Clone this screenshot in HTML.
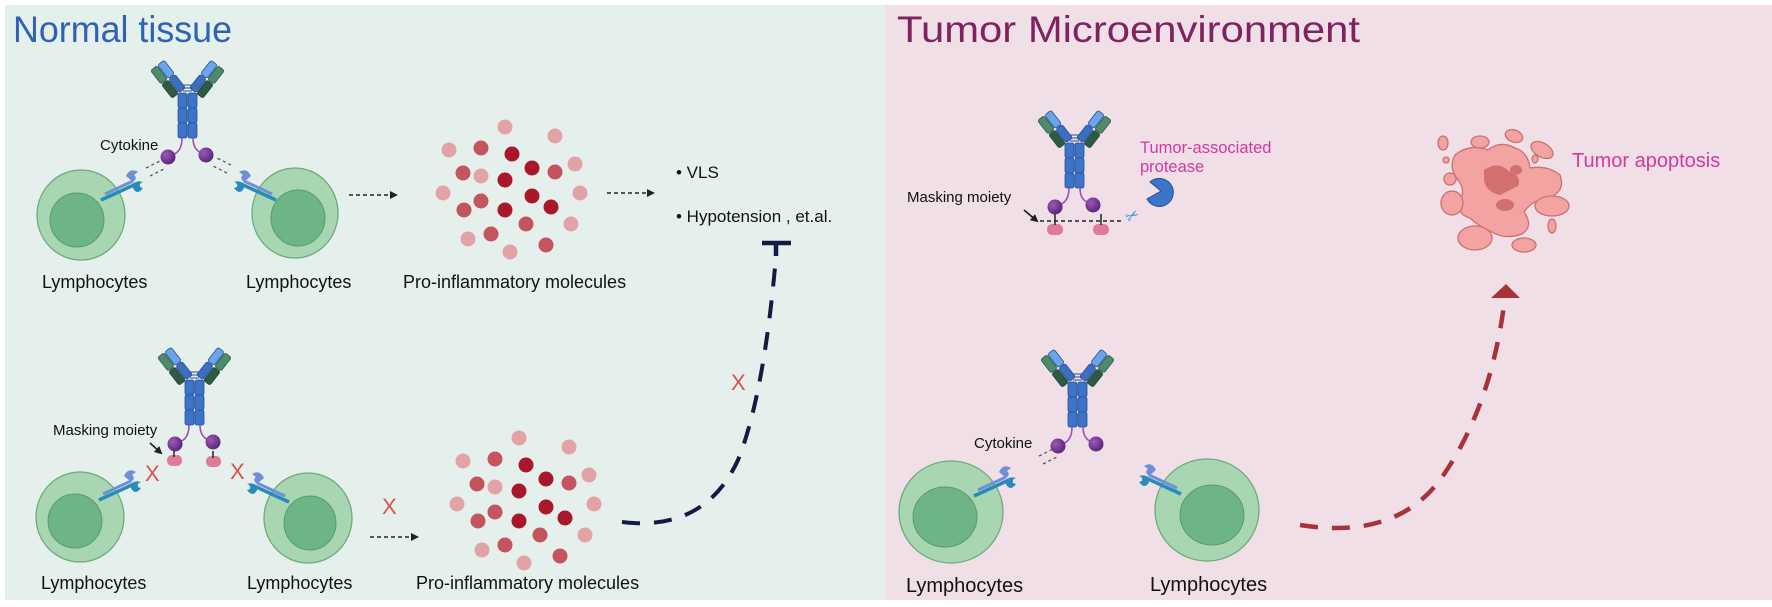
<!DOCTYPE html>
<html><head><meta charset="utf-8"><style>
html,body{margin:0;padding:0;background:#fff}
svg{display:block}
text{font-family:"Liberation Sans",Arial,sans-serif}
</style></head><body>
<svg width="1772" height="607" viewBox="0 0 1772 607" xmlns="http://www.w3.org/2000/svg">
<defs>
<radialGradient id="ball" cx="35%" cy="35%" r="70%"><stop offset="0" stop-color="#9a5ab8"/><stop offset="1" stop-color="#5a2378"/></radialGradient>
<g id="arm">
  <rect x="180" y="72" width="8" height="17" rx="2" fill="#3b6fc2" stroke="#2a4f95" stroke-width="0.8"/>
  <rect x="180" y="54" width="8" height="17" rx="2" fill="#6aa4ea" stroke="#2a4f95" stroke-width="0.8"/>
  <rect x="171" y="72" width="8" height="17" rx="2" fill="#2d5a44" stroke="#234536" stroke-width="0.8"/>
  <rect x="171" y="54" width="8" height="17" rx="2" fill="#4f8a6c" stroke="#2d5a44" stroke-width="0.8"/>
</g>
<g id="ab">
  <g transform="rotate(-38 185 92)"><use href="#arm"/></g>
  <g transform="translate(375 0) scale(-1 1)"><g transform="rotate(-38 185 92)"><use href="#arm"/></g></g>
  <line x1="183" y1="85" x2="192" y2="85" stroke="#2a4f95" stroke-width="1"/>
  <line x1="183" y1="88" x2="192" y2="88" stroke="#2a4f95" stroke-width="1"/>
  <line x1="183" y1="91" x2="192" y2="91" stroke="#2a4f95" stroke-width="1"/>
  <g fill="#3b74c8" stroke="#2a4f95" stroke-width="0.8">
    <rect x="178" y="93" width="9" height="15" rx="2"/><rect x="178" y="108" width="9" height="15" rx="2"/><rect x="178" y="123" width="9" height="15" rx="2"/>
    <rect x="188" y="93" width="9" height="15" rx="2"/><rect x="188" y="108" width="9" height="15" rx="2"/><rect x="188" y="123" width="9" height="15" rx="2"/>
  </g>
  <path d="M182,138 Q182,152 172,155" fill="none" stroke="#a050b0" stroke-width="1.6"/>
  <path d="M193,138 Q193,150 202,153" fill="none" stroke="#a050b0" stroke-width="1.6"/>
  <circle cx="168" cy="157" r="7.5" fill="url(#ball)"/>
  <circle cx="206" cy="155" r="7.5" fill="url(#ball)"/>
</g>
<g id="recL">
  <line x1="101" y1="200" x2="136" y2="184" stroke="#2a8ab8" stroke-width="3.5"/>
  <line x1="105" y1="194" x2="133" y2="181" stroke="#6f90d6" stroke-width="3"/>
  <path d="M126,176 q4,-9 12,-4 l-4,3 q4,3 -1,7 z" fill="#6f90d6"/>
  <path d="M133,188 q4,8 10,0 l-3,-1 q-1,-4 3,-5 q-6,-2 -10,2 z" fill="#2a8ab8"/>
</g>
<g id="mol">
  <g fill="#e3a2a6">
    <circle cx="505" cy="127" r="7.5"/><circle cx="555" cy="136" r="7.5"/><circle cx="449" cy="150" r="7.5"/><circle cx="575" cy="164" r="7.5"/><circle cx="481" cy="176" r="7.5"/><circle cx="443" cy="193" r="7.5"/><circle cx="580" cy="193" r="7.5"/><circle cx="571" cy="224" r="7.5"/><circle cx="468" cy="239" r="7.5"/><circle cx="510" cy="252" r="7.5"/>
  </g>
  <g fill="#c4545d">
    <circle cx="481" cy="148" r="7.5"/><circle cx="555" cy="172" r="7.5"/><circle cx="463" cy="173" r="7.5"/><circle cx="481" cy="201" r="7.5"/><circle cx="464" cy="210" r="7.5"/><circle cx="526" cy="224" r="7.5"/><circle cx="491" cy="234" r="7.5"/><circle cx="546" cy="245" r="7.5"/>
  </g>
  <g fill="#a8182a">
    <circle cx="512" cy="154" r="7.5"/><circle cx="532" cy="168" r="7.5"/><circle cx="505" cy="180" r="7.5"/><circle cx="532" cy="196" r="7.5"/><circle cx="505" cy="210" r="7.5"/><circle cx="551" cy="207" r="7.5"/>
  </g>
</g>
<g id="dashes">
  <line x1="146" y1="168" x2="160" y2="161" stroke="#555" stroke-width="1.3" stroke-dasharray="3,3"/>
  <line x1="150" y1="176" x2="164" y2="169" stroke="#555" stroke-width="1.3" stroke-dasharray="3,3"/>
</g>
<marker id="ah" markerWidth="8" markerHeight="8" refX="6" refY="4" orient="auto" markerUnits="userSpaceOnUse"><path d="M0,0 L8,4 L0,8 z" fill="#222"/></marker>
</defs>

<rect x="5" y="5" width="880" height="595" fill="#e5f0ec"/>
<rect x="885" y="5" width="887" height="595" fill="#f0dfe6"/>

<text x="13" y="42" font-size="37" fill="#2f62b5" textLength="219" lengthAdjust="spacingAndGlyphs">Normal tissue</text>
<text x="897" y="42" font-size="37" fill="#7f2260" textLength="463" lengthAdjust="spacingAndGlyphs">Tumor Microenvironment</text>

<!-- TOP LEFT -->
<use href="#ab"/>
<text x="100" y="150" font-size="15" fill="#111">Cytokine</text>
<use href="#dashes"/>
<g transform="translate(375 0) scale(-1 1)"><use href="#dashes" transform="translate(-2 -3)"/></g>
<ellipse cx="81" cy="215" rx="44" ry="45" fill="#a9d6b2" stroke="#6cab7b" stroke-width="1.3"/>
<ellipse cx="77" cy="220" rx="27" ry="27" fill="#6db486" stroke="#5a9a70" stroke-width="1"/>
<ellipse cx="295" cy="213" rx="43" ry="45" fill="#a9d6b2" stroke="#6cab7b" stroke-width="1.3"/>
<ellipse cx="298" cy="218" rx="27" ry="28" fill="#6db486" stroke="#5a9a70" stroke-width="1"/>
<use href="#recL"/>
<g transform="translate(377 0) scale(-1 1)"><use href="#recL"/></g>
<text x="42" y="288" font-size="18" fill="#111">Lymphocytes</text>
<text x="246" y="288" font-size="18" fill="#111">Lymphocytes</text>
<line x1="349" y1="195" x2="396" y2="195" stroke="#222" stroke-width="1.6" stroke-dasharray="4,3" marker-end="url(#ah)"/>
<use href="#mol"/>
<text x="403" y="288" font-size="18" fill="#111">Pro-inflammatory molecules</text>
<line x1="607" y1="193" x2="653" y2="193" stroke="#222" stroke-width="1.6" stroke-dasharray="4,3" marker-end="url(#ah)"/>
<text x="676" y="178" font-size="17" fill="#111">• VLS</text>
<text x="676" y="222" font-size="17" fill="#111">• Hypotension , et.al.</text>

<!-- BOTTOM LEFT -->
<use href="#ab" transform="translate(7 287)"/>
<rect x="167" y="455" width="15" height="11" rx="5" fill="#e07a9a"/>
<rect x="206" y="456" width="15" height="11" rx="5" fill="#e07a9a"/>
<line x1="174" y1="451" x2="174" y2="457" stroke="#222" stroke-width="1.5"/>
<line x1="213" y1="451" x2="213" y2="458" stroke="#222" stroke-width="1.5"/>
<text x="53" y="435" font-size="15" fill="#111">Masking moiety</text>
<line x1="150" y1="443" x2="161" y2="453" stroke="#222" stroke-width="1.6" marker-end="url(#ah)"/>
<text x="145" y="481" font-size="22" fill="#d9534f">X</text>
<text x="230" y="479" font-size="22" fill="#d9534f">X</text>
<text x="382" y="514" font-size="22" fill="#d9534f">X</text>
<ellipse cx="80" cy="517" rx="44" ry="45" fill="#a9d6b2" stroke="#6cab7b" stroke-width="1.3"/>
<ellipse cx="75" cy="521" rx="27" ry="27" fill="#6db486" stroke="#5a9a70" stroke-width="1"/>
<ellipse cx="308" cy="518" rx="44" ry="45" fill="#a9d6b2" stroke="#6cab7b" stroke-width="1.3"/>
<ellipse cx="310" cy="523" rx="26" ry="27" fill="#6db486" stroke="#5a9a70" stroke-width="1"/>
<use href="#recL" transform="translate(-2 300)"/>
<g transform="translate(390 302) scale(-1 1)"><use href="#recL"/></g>
<text x="41" y="589" font-size="18" fill="#111">Lymphocytes</text>
<text x="247" y="589" font-size="18" fill="#111">Lymphocytes</text>
<line x1="370" y1="537" x2="417" y2="537" stroke="#222" stroke-width="1.6" stroke-dasharray="4,3" marker-end="url(#ah)"/>
<use href="#mol" transform="translate(14 311)"/>
<text x="416" y="589" font-size="18" fill="#111">Pro-inflammatory molecules</text>
<text x="731" y="390" font-size="22" fill="#d9534f">X</text>
<path d="M622,522 Q705,532 738,460 Q764,395 776,256" fill="none" stroke="#141a44" stroke-width="4" stroke-dasharray="18,14"/>
<line x1="762" y1="243" x2="791" y2="243" stroke="#141a44" stroke-width="4.5"/>
<line x1="776" y1="243" x2="776" y2="256" stroke="#141a44" stroke-width="4.5"/>

<!-- TOP RIGHT -->
<use href="#ab" transform="translate(887 50)"/>
<rect x="1047" y="224" width="16" height="11" rx="5" fill="#e07a9a"/>
<rect x="1093" y="224" width="16" height="11" rx="5" fill="#e07a9a"/>
<line x1="1055" y1="214" x2="1055" y2="225" stroke="#222" stroke-width="1.5"/>
<line x1="1101" y1="214" x2="1101" y2="225" stroke="#222" stroke-width="1.5"/>
<line x1="1040" y1="221" x2="1122" y2="221" stroke="#222" stroke-width="1.5" stroke-dasharray="4,3"/>
<text x="907" y="202" font-size="15" fill="#111">Masking moiety</text>
<line x1="1024" y1="210" x2="1037" y2="221" stroke="#222" stroke-width="1.8" marker-end="url(#ah)"/>
<text x="1125" y="220" font-size="16" fill="#3a9ad8" transform="rotate(-30 1134 214)">✂</text>
<path d="M1161,191 L1147,199 A14,14 0 1,0 1150,182 Z" fill="#3b74c8" stroke="#2a4f95" stroke-width="1"/>
<text x="1140" y="153" font-size="16.5" fill="#d23a9e">Tumor-associated</text>
<text x="1140" y="172" font-size="16.5" fill="#d23a9e">protease</text>

<g fill="#f4a3a3" stroke="#c97171" stroke-width="1.3">
  <path d="M1455,155 Q1470,143 1488,150 Q1500,140 1515,148 Q1528,152 1530,168 Q1548,165 1560,175 Q1566,192 1548,198 Q1532,200 1524,212 Q1534,226 1522,234 Q1505,240 1492,232 Q1478,226 1470,218 Q1456,214 1460,200 Q1466,190 1458,180 Q1448,168 1455,155 Z"/>
  <ellipse cx="1443" cy="143" rx="5" ry="7"/>
  <ellipse cx="1480" cy="142" rx="9" ry="6"/>
  <ellipse cx="1514" cy="136" rx="9" ry="6" transform="rotate(20 1514 136)"/>
  <ellipse cx="1542" cy="150" rx="12" ry="7" transform="rotate(30 1542 150)"/>
  <ellipse cx="1535" cy="159" rx="3" ry="4"/>
  <ellipse cx="1446" cy="160" rx="3" ry="3"/>
  <ellipse cx="1450" cy="179" rx="6" ry="6"/>
  <ellipse cx="1452" cy="203" rx="11" ry="12"/>
  <ellipse cx="1475" cy="238" rx="17" ry="12"/>
  <ellipse cx="1524" cy="245" rx="12" ry="7"/>
  <ellipse cx="1552" cy="206" rx="17" ry="10"/>
  <ellipse cx="1552" cy="226" rx="4" ry="7"/>
</g>
<path d="M1484,170 Q1498,160 1510,172 Q1522,176 1518,186 Q1506,192 1500,195 Q1486,192 1484,180 Z" fill="#d46f70"/>
<ellipse cx="1516" cy="170" rx="6" ry="5" fill="#d46f70"/>
<ellipse cx="1505" cy="205" rx="9" ry="6" fill="#d46f70"/>
<text x="1572" y="167" font-size="20" fill="#d23a9e">Tumor apoptosis</text>

<!-- BOTTOM RIGHT -->
<use href="#ab" transform="translate(890 289)"/>
<text x="974" y="448" font-size="15" fill="#111">Cytokine</text>
<use href="#dashes" transform="translate(893 288)"/>
<g transform="translate(2158 286) scale(-1 1)"><use href="#dashes"/></g>
<ellipse cx="951" cy="512" rx="52" ry="51" fill="#a9d6b2" stroke="#6cab7b" stroke-width="1.3"/>
<ellipse cx="945" cy="517" rx="32" ry="30" fill="#6db486" stroke="#5a9a70" stroke-width="1"/>
<ellipse cx="1207" cy="510" rx="52" ry="51" fill="#a9d6b2" stroke="#6cab7b" stroke-width="1.3"/>
<ellipse cx="1212" cy="515" rx="32" ry="30" fill="#6db486" stroke="#5a9a70" stroke-width="1"/>
<use href="#recL" transform="translate(873 296)"/>
<g transform="translate(1282 294) scale(-1 1)"><use href="#recL"/></g>
<text x="906" y="592" font-size="20" fill="#111">Lymphocytes</text>
<text x="1150" y="591" font-size="20" fill="#111">Lymphocytes</text>
<path d="M1300,525 Q1395,540 1440,480 Q1490,410 1504,305" fill="none" stroke="#a8323a" stroke-width="4.5" stroke-dasharray="18,14"/>
<path d="M1491,298 L1506,284 L1520,298 Z" fill="#a8323a"/>
</svg>
</body></html>
